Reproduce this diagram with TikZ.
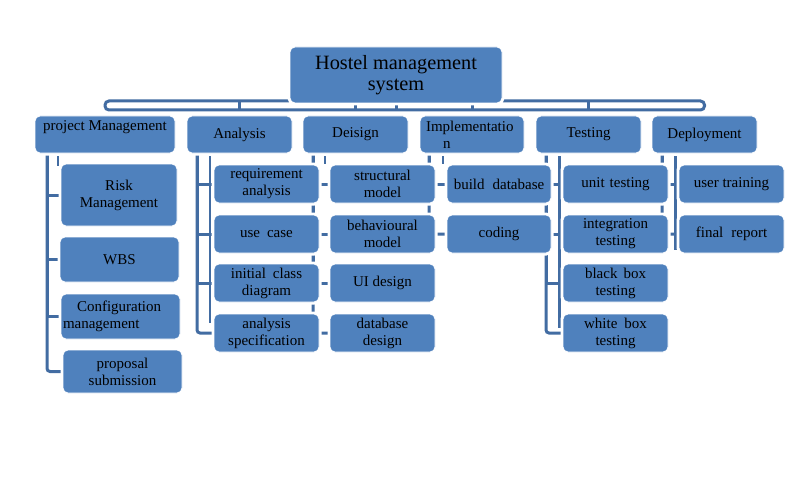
\documentclass[tikz,border=0pt]{standalone}
\usepackage{fontspec}
\setmainfont{Liberation Serif}
\usetikzlibrary{backgrounds}
\definecolor{boxblue}{RGB}{79,129,189}
\definecolor{connblue}{RGB}{66,108,162}
\newcommand\bxfont{\fontsize{15}{17}\selectfont}
\newcommand\rtfont{\fontsize{20.3}{21}\selectfont}
\begin{document}
\begin{tikzpicture}[x=1pt,y=-1pt,
  box/.style={rounded corners=5pt, preaction={draw=white, line width=5pt},
    fill=boxblue, draw=white, line width=0.8pt,
    inner sep=0pt, outer sep=0pt, anchor=north west, align=center, font=\bxfont, text=black},
  conn/.style={draw=connblue, line width=3pt},
  conntwo/.style={draw=connblue, line width=2.4pt}]
\useasboundingbox (0,0) rectangle (805,484);
% root
\node[box, minimum width=212pt, minimum height=56pt, font=\rtfont] (root) at (290,47) {Hostel management\\system};
% level 1
\node[box, minimum width=140pt, minimum height=37pt] (pm) at (35,116) {project Management\\\mbox{}};
\node[box, minimum width=105pt, minimum height=37pt] (an) at (187,116) {Analysis};
\node[box, minimum width=105pt, minimum height=37pt] (de) at (303,116) {Deisign};
\node[box, minimum width=104pt, minimum height=37pt, align=left, text width=92pt, inner xsep=6pt] (im) at (420,116) {Implementatio\\\hspace*{17pt}n};
\node[box, minimum width=105pt, minimum height=37pt] (te) at (536,116) {Testing};
\node[box, minimum width=105pt, minimum height=37pt] (dp) at (652,116) {Deployment};
% project management children
\node[box, minimum width=116pt, minimum height=62pt] (pm1) at (61,164) {Risk\\Management};
\node[box, minimum width=119pt, minimum height=45pt] (pm2) at (60,237) {WBS};
\node[box, minimum width=119pt, minimum height=45pt, align=left, text width=115pt, inner xsep=2pt] (pm3) at (61,294) {\hspace*{14pt}Configuration\\management};
\node[box, minimum width=119pt, minimum height=43pt] (pm4) at (63,350) {proposal\\submission};
% analysis children
\node[box, minimum width=105pt, minimum height=38pt] (an1) at (214,165) {requirement\\analysis};
\node[box, minimum width=105pt, minimum height=38pt] (an2) at (214,215) {use\hspace{7pt}case};
\node[box, minimum width=105pt, minimum height=38pt] (an3) at (214,264) {initial\hspace{7pt}class\\diagram};
\node[box, minimum width=105pt, minimum height=38pt] (an4) at (214,314) {analysis\\specification};
% design children
\node[box, minimum width=105pt, minimum height=38pt] (de1) at (330,165) {structural\\model};
\node[box, minimum width=105pt, minimum height=38pt] (de2) at (330,215) {behavioural\\model};
\node[box, minimum width=105pt, minimum height=38pt] (de3) at (330,264) {UI design};
\node[box, minimum width=105pt, minimum height=38pt] (de4) at (330,314) {database\\design};
% implementation children
\node[box, minimum width=104pt, minimum height=38pt] (im1) at (447,165) {build\hspace{8pt}database};
\node[box, minimum width=104pt, minimum height=38pt] (im2) at (447,215) {coding};
% testing children
\node[box, minimum width=105pt, minimum height=38pt] (te1) at (563,165) {unit\hspace{5pt}testing};
\node[box, minimum width=105pt, minimum height=38pt] (te2) at (563,215) {integration\\testing};
\node[box, minimum width=105pt, minimum height=38pt] (te3) at (563,264) {black\hspace{6pt}box\\testing};
\node[box, minimum width=105pt, minimum height=38pt] (te4) at (563,314) {white\hspace{7pt}box\\testing};
% deployment children
\node[box, minimum width=105pt, minimum height=38pt] (dp1) at (679,165) {user training};
\node[box, minimum width=105pt, minimum height=38pt] (dp2) at (679,215) {final\hspace{8pt}report};
% connectors
\begin{scope}[on background layer]
\fill[white] (0,0) rectangle (805,484);
\coordinate (busT) at (0,101);
\coordinate (busB) at (0,110);
\draw[conn, rounded corners=4pt] (pm.north |- busT) rectangle (dp.north |- busB);
\foreach \n in {an,de,im,te} \draw[conn] (\n.north |- busT) -- (\n.north |- busB);
\draw[conn] (root.south) -- (root.south |- busB);
% project management
\draw[conn, rounded corners=3pt] ([xshift=12pt]pm.south west) |- (pm4.west);
\foreach \c in {pm1,pm2,pm3} \draw[conn] ([xshift=12pt]pm.south west) |- (\c.west);
\draw[conntwo] (pm.south west) ++(23,3) -- ++(0,10);
% analysis
\draw[conn, rounded corners=3pt] ([xshift=10pt]an.south west) |- (an4.west);
\foreach \c in {an1,an2,an3} \draw[conn] ([xshift=10pt]an.south west) |- (\c.west);
\draw[conntwo] (an.south west) ++(23,3) -- ++(0,167);
% design
\draw[conn, rounded corners=3pt] ([xshift=10pt]de.south west) |- (de4.west);
\foreach \c in {de1,de2,de3} \draw[conn] ([xshift=10pt]de.south west) |- (\c.west);
\draw[conntwo] (de.south west) ++(22,3) -- ++(0,8);
% implementation
\draw[conn, rounded corners=3pt] ([xshift=9pt]im.south west) |- (im2.west);
\draw[conn] ([xshift=9pt]im.south west) |- (im1.west);
\draw[conntwo] (im.south west) ++(23,3) -- ++(0,8);
% testing
\draw[conn, rounded corners=3pt] ([xshift=10pt]te.south west) |- (te4.west);
\foreach \c in {te1,te2,te3} \draw[conn] ([xshift=10pt]te.south west) |- (\c.west);
\draw[conntwo] (te.south west) ++(23.5,3) -- ++(0,172);
% deployment
\draw[conn, rounded corners=3pt] ([xshift=10pt]dp.south west) |- (dp2.west);
\draw[conn] ([xshift=10pt]dp.south west) |- (dp1.west);
\draw[conntwo] (dp.south west) ++(23.5,3) -- ++(0,94);
\end{scope}
\end{tikzpicture}
\end{document}
